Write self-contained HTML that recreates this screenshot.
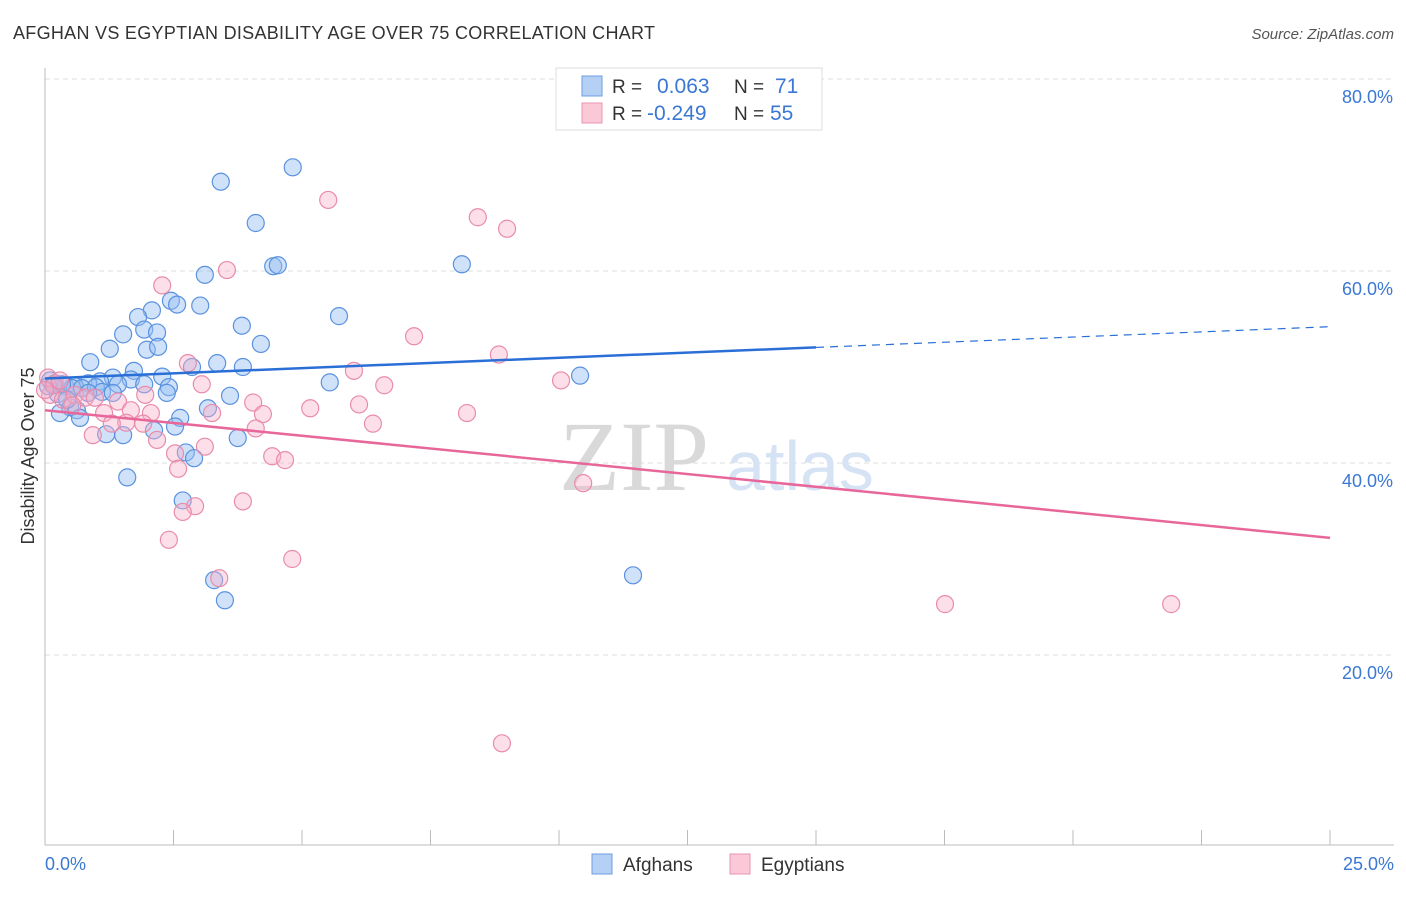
<!DOCTYPE html>
<html><head><meta charset="utf-8"><style>
body{margin:0;background:#fff;font-family:"Liberation Sans",sans-serif}
svg text{font-family:"Liberation Sans",sans-serif}
</style></head><body>
<svg id="chart" width="1406" height="892">
<text x="13" y="39" font-size="18" fill="#333" textLength="642">AFGHAN VS EGYPTIAN DISABILITY AGE OVER 75 CORRELATION CHART</text>
<text x="1394" y="39" font-size="15" fill="#555" font-style="italic" text-anchor="end">Source: ZipAtlas.com</text>
<g id="grid"></g>
<g><text x="634" y="490" font-size="100" style="font-family:'Liberation Serif',serif" fill="#d9d9d9" text-anchor="middle">ZIP</text><text x="800" y="490" font-size="70" fill="#d5e3f5" text-anchor="middle">atlas</text></g>
<line x1="45" y1="68" x2="45" y2="845" stroke="#bbb"/>
<line x1="45" y1="845" x2="1394" y2="845" stroke="#bbb"/>
<g id="xticks"></g>
<text x="45" y="870" font-size="18" fill="#3a78d4">0.0%</text>
<text x="1394" y="870" font-size="18" fill="#3a78d4" text-anchor="end">25.0%</text>
<text transform="translate(34,456) rotate(-90)" font-size="18" fill="#333" text-anchor="middle">Disability Age Over 75</text>
<g id="pts"></g>
<g id="trend"></g>
<g>
<rect x="556" y="68" width="266" height="62" fill="#fff" stroke="#ddd"/>
<rect x="582" y="76" width="20" height="20" fill="#b5d0f5" stroke="#6d9de0"/>
<rect x="582" y="103" width="20" height="20" fill="#fbc8d8" stroke="#ea93b0"/>
<text x="612" y="93" font-size="19" fill="#333">R = </text><text x="657" y="93" font-size="21" fill="#3a78d4">0.063</text>
<text x="734" y="93" font-size="19" fill="#333">N = </text><text x="775" y="93" font-size="21" fill="#3a78d4">71</text>
<text x="612" y="120" font-size="19" fill="#333">R = </text><text x="647" y="120" font-size="21" fill="#3a78d4">-0.249</text>
<text x="734" y="120" font-size="19" fill="#333">N = </text><text x="770" y="120" font-size="21" fill="#3a78d4">55</text>
</g>
<g>
<rect x="592" y="854" width="20" height="20" fill="#b5d0f5" stroke="#6d9de0"/>
<text x="623" y="871" font-size="19" fill="#333">Afghans</text>
<rect x="730" y="854" width="20" height="20" fill="#fbc8d8" stroke="#ea93b0"/>
<text x="761" y="871" font-size="19" fill="#333">Egyptians</text>
</g>
</svg>
<script>
const yTicks=[20,40,60,80];
const yTickLabels=["20.0%","40.0%","60.0%","80.0%"];
const xTicks=[0,2.5,5,7.5,10,12.5,15,17.5,20,22.5,25];
const afghanX=[4.82,3.42,4.10,4.44,4.53,8.11,3.11,2.45,2.57,3.02,2.08,1.81,5.72,3.83,1.52,1.93,2.18,1.98,2.20,1.26,4.20,0.88,3.35,3.85,2.86,5.54,10.41,1.73,2.28,1.32,1.67,1.07,0.84,1.42,1.93,2.41,2.37,0.19,0.39,0.58,0.25,0.53,0.72,0.99,1.11,1.32,3.60,3.17,2.63,0.49,0.62,0.29,0.68,2.53,1.19,1.52,2.12,3.75,2.74,2.90,1.60,2.68,3.29,3.50,11.44,0.10,0.33,0.06,0.84,0.43,0.16];
const afghanY=[70.8,69.3,65.0,60.5,60.6,60.7,59.6,56.9,56.5,56.4,55.9,55.2,55.3,54.3,53.4,53.9,53.6,51.8,52.1,51.9,52.4,50.5,50.4,50.0,50.0,48.4,49.1,49.6,49.0,48.9,48.7,48.5,48.3,48.2,48.2,47.9,47.3,48.3,48.0,48.0,47.2,47.8,47.8,47.9,47.4,47.3,47.0,45.7,44.7,45.8,45.5,45.2,44.7,43.8,43.0,42.9,43.4,42.6,41.1,40.5,38.5,36.1,27.8,25.7,28.3,48.6,48.2,48.0,47.3,46.6,48.1];
const egyptX=[5.51,8.42,8.99,3.54,2.28,7.18,8.83,2.78,6.01,3.05,6.60,10.04,4.05,6.11,1.42,1.15,1.67,2.06,3.25,4.24,5.16,8.21,6.38,1.58,1.30,1.91,4.10,2.18,0.93,2.53,3.11,4.42,4.67,2.59,3.85,2.92,2.68,2.41,4.81,3.39,10.47,17.51,21.91,8.89,0.06,0.19,0.10,0.35,0.58,0.78,0.97,0.53,0.29,0.00,1.95];
const egyptY=[67.4,65.6,64.4,60.1,58.5,53.2,51.3,50.4,49.6,48.2,48.1,48.6,46.3,46.1,46.4,45.2,45.5,45.2,45.2,45.1,45.7,45.2,44.1,44.2,44.1,44.1,43.6,42.4,42.9,41.0,41.7,40.7,40.3,39.4,36.0,35.5,34.9,32.0,30.0,28.0,37.9,25.3,25.3,10.8,48.9,48.2,47.1,46.6,47.1,46.8,46.8,46.0,48.6,47.6,47.1];
const trendIntercept=[48.8,45.5];
const trendSlope=[0.216,-0.532];
const X0=45,X1=1330,XMAX=25,Y0=847,YPER=9.6;
const sx=v=>X0+(X1-X0)*v/XMAX;
const sy=v=>Y0-v*YPER;
const NS="http://www.w3.org/2000/svg";
function mk(t,a,p){const e=document.createElementNS(NS,t);for(const k in a)e.setAttribute(k,a[k]);p.appendChild(e);return e;}
const grid=document.getElementById('grid');
yTicks.forEach((v,i)=>{
  const l=mk('line',{x1:45,x2:1394,y1:sy(v),y2:sy(v),stroke:'#ddd','stroke-dasharray':'5,4'},grid);
  
  
  const t=mk('text',{x:1393,y:sy(v)+24,'font-size':18,fill:'#3a78d4','text-anchor':'end'},grid);
  t.textContent=yTickLabels[i];
  
  
});
const xt=document.getElementById('xticks');
xTicks.forEach(v=>{
  const l=mk('line',{x1:sx(v),x2:sx(v),y1:830,y2:845,stroke:'#bbb'},xt);
  
  
});
const pts=document.getElementById('pts');
afghanX.forEach((x,i)=>{
  const c=mk('circle',{cx:sx(x),cy:sy(afghanY[i]),r:8.5,fill:'rgba(150,190,242,0.45)',stroke:'#5a92df','stroke-width':1.2},pts);
  
  
});
egyptX.forEach((x,i)=>{
  const c=mk('circle',{cx:sx(x),cy:sy(egyptY[i]),r:8.5,fill:'rgba(247,175,200,0.4)',stroke:'#e98cab','stroke-width':1.2},pts);
  
  
});
const tr=document.getElementById('trend');
const f=(k,x)=>trendIntercept[k]+trendSlope[k]*x;
let l1=mk('line',{x1:sx(0),y1:sy(f(0,0)),x2:sx(15),y2:sy(f(0,15)),stroke:'#2a6fd6','stroke-width':2.5},tr);


let l2=mk('line',{x1:sx(15),y1:sy(f(0,15)),x2:sx(25),y2:sy(f(0,25)),stroke:'#2a6fd6','stroke-width':1.2,'stroke-dasharray':'8,6'},tr);


let l3=mk('line',{x1:sx(0),y1:sy(f(1,0)),x2:sx(25),y2:sy(f(1,25)),stroke:'#e8679a','stroke-width':2.5},tr);


</script>
</body></html>
